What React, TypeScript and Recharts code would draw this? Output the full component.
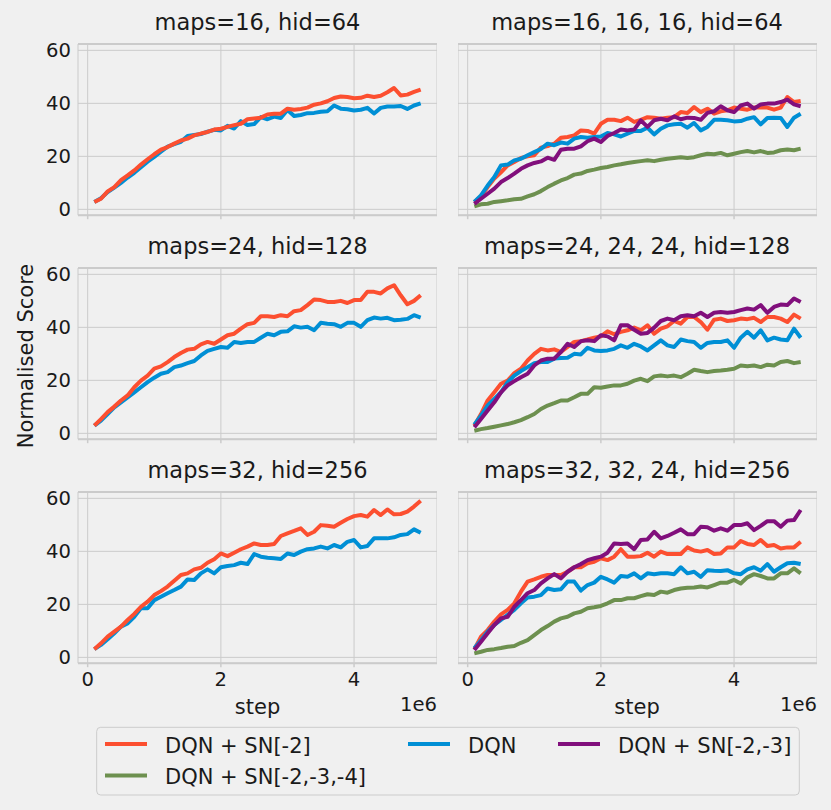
import { LineChart, Line, XAxis, YAxis, CartesianGrid, ReferenceLine } from 'recharts';

// x = training step, in units of 1e6
const STEPS = [
  0.1, 0.2, 0.3, 0.4, 0.5, 0.6, 0.7, 0.8, 0.9, 1.0,
  1.1, 1.2, 1.3, 1.4, 1.5, 1.6, 1.7, 1.8, 1.9, 2.0,
  2.1, 2.2, 2.3, 2.4, 2.5, 2.6, 2.7, 2.8, 2.9, 3.0,
  3.1, 3.2, 3.3, 3.4, 3.5, 3.6, 3.7, 3.8, 3.9, 4.0,
  4.1, 4.2, 4.3, 4.4, 4.5, 4.6, 4.7, 4.8, 4.9, 5.0,
];

const X_TICKS = [0, 2, 4];
const Y_TICKS = [0, 20, 40, 60];

// maps=16, hid=64
const m16_sn2 = [2.8, 4, 6.8, 8.4, 11, 12.8, 14.7, 16.9, 18.9, 20.8, 22.5, 23.5, 24.8, 26, 26.7, 27.9, 28.6, 29.2, 30.1, 30.4, 31.1, 31.8, 32.3, 34, 34.3, 34.6, 35.8, 36.1, 36.1, 38, 37.6, 37.9, 38.4, 39.5, 40, 40.8, 42, 42.6, 42.4, 41.9, 42.1, 42.9, 42.4, 42.9, 44.2, 45.8, 43, 43.3, 44.3, 45.2];
const m16_dqn = [2.8, 4.2, 6.5, 8.2, 10, 12, 13.8, 15.9, 18, 19.8, 21.8, 23.7, 24.6, 25.5, 27.7, 28.1, 28.4, 29.3, 30, 29.8, 31.5, 30.5, 33.3, 31.8, 32.2, 34.8, 34, 35, 34.5, 37.5, 35.2, 35.6, 36.3, 36.4, 36.8, 37, 39.2, 38, 37.8, 37.3, 37.6, 38.3, 36.2, 38.3, 38.8, 38.8, 39, 37.9, 39.2, 40];

// maps=16, 16, 16, hid=64
const m161616_sn2 = [2.8, 4.9, 8.4, 11.6, 14, 16.6, 17.9, 19.4, 20, 20.4, 23.3, 23.9, 24.8, 27, 27.3, 27.9, 29.8, 29.6, 28.6, 32.3, 33.8, 33.8, 33.3, 34.6, 33, 33.8, 34.8, 34.6, 34.2, 34.6, 34.8, 36.7, 36.4, 38.6, 36.7, 38, 36.1, 37, 37.4, 38.4, 38, 37.6, 38.4, 38.4, 38.4, 37.6, 38.4, 42.4, 40.5, 40.9];
const m161616_dqn = [2.8, 5.3, 9, 12.2, 16.6, 16.9, 18.5, 19.1, 20.4, 21.6, 22.8, 24.8, 24.2, 25.2, 24.8, 26.7, 27.3, 27, 27.3, 27.5, 28.8, 28.3, 27.5, 28.6, 29.6, 29.6, 30.8, 28.3, 30.4, 31.7, 32.1, 32.3, 30.8, 32.6, 29.8, 31.1, 33.8, 33.8, 33.6, 33.2, 33.3, 34.2, 34.8, 32.1, 34.5, 34.6, 34.5, 31.1, 34.6, 36.1];
const m161616_sn23 = [2.1, 4, 5.9, 7.8, 10.3, 11.8, 13.5, 15.3, 16.6, 17.5, 18.1, 19.5, 18.7, 22.5, 22.9, 22.9, 23.8, 25.7, 26.7, 25.4, 27.7, 28.8, 30.1, 29.8, 30.1, 33.6, 31.1, 33.6, 34.2, 33.6, 35.1, 34, 34.6, 34.5, 33.8, 36.4, 37, 38.9, 37.4, 36.7, 39.2, 39.9, 38, 39.6, 39.9, 39.9, 40.5, 41.4, 39.6, 38.9];
const m161616_sn234 = [1.1, 1.9, 2.1, 2.8, 3.1, 3.4, 3.8, 4, 4.9, 5.7, 6.9, 8.4, 9.7, 10.9, 11.8, 13.1, 13.5, 14.5, 15, 15.6, 16, 16.6, 17, 17.5, 17.9, 18.2, 18.5, 18.2, 18.7, 19.1, 19.4, 19.7, 19.4, 19.7, 20.4, 21, 20.8, 21.3, 20.4, 21, 21.6, 22, 21.5, 22, 21.3, 21.5, 22.3, 22.6, 22.3, 22.9];

// maps=24, hid=128
const m24_sn2 = [2.9, 5.4, 8, 10.1, 12.4, 14.3, 17.4, 19.9, 21.8, 24.4, 25.3, 26.9, 28.8, 30.3, 31.6, 31.9, 33.6, 34.5, 33.8, 35.4, 37, 37.6, 39.5, 41.2, 41.7, 44.2, 44.2, 43.9, 44.6, 44.2, 46.1, 46.5, 48.4, 50.5, 50.3, 49.6, 49.6, 50, 49.2, 50.3, 50.3, 53.4, 53.4, 52.8, 54.7, 55.9, 52.1, 48.7, 50, 52.1];
const m24_dqn = [2.9, 4.8, 7.3, 9.8, 11.7, 13.6, 15.5, 17.4, 19.3, 21, 22.5, 23.1, 25, 25.6, 26.5, 27.3, 29.4, 31.1, 31.9, 32.6, 32.3, 34.5, 34.1, 34.5, 34.5, 36.1, 37.6, 37, 38.3, 38.5, 40.4, 39.9, 40.2, 38.9, 41.7, 41.4, 41.2, 40.2, 41.7, 41.7, 40.2, 42.7, 43.7, 43.3, 43.6, 42.7, 42.9, 43.2, 44.6, 43.7];

// maps=24, 24, 24, hid=128
const m242424_sn2 = [2.9, 7.3, 12.4, 15.5, 18.7, 19.9, 22.7, 24.4, 27.5, 30, 31.9, 31.3, 31.7, 30.7, 32.6, 34.5, 34.8, 35.4, 36.1, 36.6, 38.5, 37.4, 38.3, 38.9, 39.9, 38.9, 40.8, 37.6, 39.5, 40.4, 42.4, 41.4, 43.9, 43.9, 42, 39.1, 42.9, 43.3, 42.4, 42.7, 43.3, 43.1, 43.6, 42, 43.9, 43.9, 43.3, 42, 44.8, 43.3];
const m242424_dqn = [3.3, 6.7, 10.5, 13, 15.5, 19.3, 21.8, 23.5, 25, 26.5, 26.9, 26.9, 28.2, 28.4, 28.5, 30, 29.8, 32.3, 31.3, 31.1, 31.3, 31.9, 33.2, 32.3, 33.8, 32.8, 31.3, 33.2, 35.1, 33.2, 32.6, 35.4, 34.8, 34.5, 32.3, 34.1, 34.5, 34.5, 35.1, 32.3, 36.1, 38.3, 36.1, 38.9, 35.1, 36.1, 35.4, 35.1, 39.5, 36.1];
const m242424_sn23 = [2.3, 5.4, 8.6, 11.7, 15.5, 18.1, 19.7, 21.2, 22.5, 25.6, 27.5, 28.2, 28.2, 30.7, 33.8, 32.6, 34.8, 35.1, 34.8, 37, 36.6, 35.1, 40.8, 40.8, 39.1, 37.6, 37.9, 39.9, 42.4, 43.3, 42.7, 44.2, 44.6, 44.2, 45.5, 43.9, 45.5, 45.8, 45.5, 45.8, 46.5, 47.1, 46.7, 48.4, 45.5, 47.7, 48.6, 48.4, 50.9, 49.6];
const m242424_sn234 = [1, 1.6, 2, 2.5, 3, 3.5, 4.2, 5, 6.1, 7.3, 9.2, 10.5, 11.4, 12.4, 12.4, 13.6, 14.9, 14.9, 17.4, 17.2, 17.7, 18.1, 18.1, 18.7, 19.9, 20.6, 19.7, 21.5, 21.8, 21.5, 21.8, 21.2, 22.5, 24, 23.5, 23.1, 23.5, 23.7, 24, 24.4, 25.6, 25.3, 25.6, 25, 25.9, 25.6, 26.9, 27.3, 26.5, 26.9];

// maps=32, hid=256
const m32_sn2 = [3.1, 5.3, 7.8, 9.7, 11.6, 14.1, 16.4, 19.1, 21, 23.5, 25, 26.7, 28.9, 31.1, 31.7, 33.2, 33.8, 35.7, 37, 39.2, 38.2, 39.5, 40.8, 41.8, 43, 42.4, 42.4, 42.8, 45.8, 46.8, 47.7, 48.7, 46.2, 47.4, 49.9, 49.7, 49.3, 50.8, 52.2, 53.3, 53.7, 53.1, 55.6, 53.7, 55.8, 54, 54.1, 55, 56.9, 59.1];
const m32_dqn = [3.1, 4.7, 6.8, 9.1, 11.6, 12.8, 15.3, 18.5, 18.5, 21.6, 22.9, 24.2, 25.4, 26.7, 29.4, 29.2, 31.7, 33.2, 31.7, 34, 34.5, 34.8, 35.7, 35.2, 39, 38, 37.6, 37.4, 37.1, 39.2, 38.6, 39.9, 40.8, 41.1, 41.8, 41.1, 42.4, 41.5, 43.6, 44.3, 41.5, 42, 44.9, 44.9, 44.9, 45.3, 46.2, 46.5, 48.3, 47];

// maps=32, 32, 24, hid=256
const m323224_sn2 = [3, 7.8, 10.3, 13.5, 16.2, 17.9, 20.4, 24.8, 28.6, 29.4, 30.4, 31.1, 31.1, 31.1, 32.3, 34, 34, 35.5, 36.1, 37.4, 36.7, 38, 40.8, 38, 38, 38.2, 39.5, 38, 39.9, 39, 39, 39, 41.5, 40.3, 39.9, 40.5, 39, 39.2, 41.5, 41.5, 43.9, 42.8, 42.4, 44.3, 42, 42.4, 41.1, 41.5, 41.5, 43.6];
const m323224_dqn = [3.4, 6.5, 9.7, 12.2, 14.1, 16, 17.9, 20.4, 22.6, 22.9, 23.5, 26, 25.4, 25.7, 28.6, 28.6, 25.2, 27.3, 28.2, 30.4, 29.4, 28.2, 30.7, 30.4, 31.7, 29.8, 31.7, 31.4, 31.7, 31.7, 31.4, 34, 31.7, 32.3, 30.4, 32.9, 32.7, 32.6, 32.9, 31.7, 31.4, 33.2, 34, 32.7, 35.2, 32.3, 34, 35.5, 35.7, 35.2];
const m323224_sn23 = [2.8, 5.9, 9.1, 12.2, 14.7, 15.3, 19.1, 21.6, 24.2, 25.4, 27.9, 29.8, 31.4, 29.8, 32.3, 34, 35.2, 36.7, 37.4, 38, 39.5, 43, 42.8, 43, 40.8, 44.3, 44.5, 47.4, 44.9, 45.8, 47, 48.3, 46.5, 46.5, 49.3, 49.1, 47.8, 48.7, 47.8, 49.9, 49.9, 50.6, 48, 49.6, 51.4, 51.4, 49.3, 51.6, 51.8, 55.6];
const m323224_sn234 = [1.5, 2.1, 2.8, 3.1, 3.5, 4, 4.3, 5.5, 6.5, 8.4, 10.3, 11.8, 13.5, 14.7, 15.3, 16.6, 17.2, 18.5, 18.9, 19.4, 20.4, 21.6, 21.6, 22.3, 22.3, 23.1, 23.8, 23.5, 24.8, 24.4, 25.4, 26, 26.3, 26.4, 26.7, 26.4, 27.3, 28.2, 28.2, 29.2, 27.9, 30.2, 31.4, 30.7, 29.8, 29.8, 31.7, 31.7, 33.6, 31.7];

const SERIES_NAMES = { sn2: 'DQN + SN[-2]', dqn: 'DQN', sn23: 'DQN + SN[-2,-3]', sn234: 'DQN + SN[-2,-3,-4]' };
const SERIES_COLORS = { sn2: '#fc4f30', dqn: '#008fd5', sn23: '#810f7c', sn234: '#6d904f' };

const FONT = '"DejaVu Sans", sans-serif';
const X_DOMAIN = [-0.145, 5.245];
const Y_DOMAIN = [-2.2, 62.4];
const PLOT_W = 359;
const PLOT_H = 171.2;
const PAD_TOP = 14;
const COL_LEFT = [78, 457.5];
const ROW_TOP = [43.6, 267.9, 491.9];

type Ser = { key: 'sn2' | 'dqn' | 'sn23' | 'sn234'; values: number[] };

type PanelProps = {
  col: number;
  row: number;
  title: string;
  series: Ser[];
};

const NoTick = () => <g />;

function Panel({ col, row, title, series }: PanelProps) {
  const showY = col === 0;
  const showX = row === 2;
  const data = STEPS.map((s, i) => {
    const r: any = { step: s };
    series.forEach(ser => { r[ser.key] = ser.values[i]; });
    return r;
  });
  const yw = showY ? 60 : 0;
  const xh = showX ? 36 : 5;
  const left = COL_LEFT[col];
  const top = ROW_TOP[row];
  const tickStyle = { fontSize: 19.6, fill: '#1a1a1a', fontFamily: FONT };

  return (
    <>
      <div style={{
        position: 'absolute', left, top: top - 35, width: PLOT_W, textAlign: 'center',
        fontFamily: FONT, fontSize: 22.5, color: '#1a1a1a', lineHeight: '26px', whiteSpace: 'nowrap',
      }}>
        {title}
      </div>
      <div style={{ position: 'absolute', left: left - yw, top: top - PAD_TOP }}>
        <LineChart width={PLOT_W + yw} height={PLOT_H + xh + PAD_TOP} data={data}
          margin={{ top: PAD_TOP, right: 0, bottom: 0, left: 0 }}>
          <CartesianGrid stroke="#cbcbcb" strokeWidth={1} />
          <XAxis dataKey="step" type="number" domain={X_DOMAIN} ticks={X_TICKS} allowDataOverflow interval={0}
            height={xh} axisLine={false} tickLine={{ stroke: '#cbcbcb', strokeWidth: 1.5 }} tickSize={4}
            tickMargin={5} tick={showX ? tickStyle : NoTick} />
          <YAxis type="number" domain={Y_DOMAIN} ticks={Y_TICKS} allowDataOverflow width={yw} interval={0}
            hide={!showY} axisLine={false} tickLine={false} tickSize={0} tickMargin={7} tick={tickStyle} />
          <ReferenceLine y={Y_DOMAIN[0]} stroke="#cbcbcb" strokeWidth={2} />
          <ReferenceLine y={Y_DOMAIN[1]} stroke="#cbcbcb" strokeWidth={2} />
          {series.map(ser => (
            <Line key={ser.key} dataKey={ser.key} type="linear" stroke={SERIES_COLORS[ser.key]}
              strokeWidth={4} dot={false} isAnimationActive={false} strokeLinejoin="round" />
          ))}
        </LineChart>
      </div>
    </>
  );
}

const LEGEND_ITEMS: { key: Ser['key']; x: number; y: number }[] = [
  { key: 'sn2', x: 105, y: 744 },
  { key: 'sn234', x: 105, y: 775.5 },
  { key: 'dqn', x: 408, y: 744 },
  { key: 'sn23', x: 558, y: 744 },
];

export default function App() {
  return (
    <div style={{ position: 'absolute', left: 0, top: 0, width: 831, height: 810, background: '#f0f0f0', overflow: 'hidden' }}>
      <Panel col={0} row={0} title="maps=16, hid=64"
        series={[{ key: 'dqn', values: m16_dqn }, { key: 'sn2', values: m16_sn2 }]} />
      <Panel col={1} row={0} title="maps=16, 16, 16, hid=64"
        series={[{ key: 'sn2', values: m161616_sn2 }, { key: 'sn234', values: m161616_sn234 }, { key: 'dqn', values: m161616_dqn }, { key: 'sn23', values: m161616_sn23 }]} />
      <Panel col={0} row={1} title="maps=24, hid=128"
        series={[{ key: 'dqn', values: m24_dqn }, { key: 'sn2', values: m24_sn2 }]} />
      <Panel col={1} row={1} title="maps=24, 24, 24, hid=128"
        series={[{ key: 'sn2', values: m242424_sn2 }, { key: 'sn234', values: m242424_sn234 }, { key: 'dqn', values: m242424_dqn }, { key: 'sn23', values: m242424_sn23 }]} />
      <Panel col={0} row={2} title="maps=32, hid=256"
        series={[{ key: 'dqn', values: m32_dqn }, { key: 'sn2', values: m32_sn2 }]} />
      <Panel col={1} row={2} title="maps=32, 32, 24, hid=256"
        series={[{ key: 'sn2', values: m323224_sn2 }, { key: 'sn234', values: m323224_sn234 }, { key: 'dqn', values: m323224_dqn }, { key: 'sn23', values: m323224_sn23 }]} />

      <svg width={831} height={810} style={{ position: 'absolute', left: 0, top: 0, pointerEvents: 'none' }}
        fontFamily={FONT} fill="#1a1a1a">
        <text x={33} y={356} fontSize={21} textAnchor="middle" transform="rotate(-90 33 356)">Normalised Score</text>
        <text x={257.5} y={714} fontSize={21} textAnchor="middle">step</text>
        <text x={637} y={714} fontSize={21} textAnchor="middle">step</text>
        <text x={437} y={711} fontSize={19.6} textAnchor="end">1e6</text>
        <text x={817} y={711} fontSize={19.6} textAnchor="end">1e6</text>

        <rect x={96.7} y={727.3} width={702.6} height={67.7} rx={4} fill="#f0f0f0" stroke="#cccccc" strokeWidth={1} />
        {LEGEND_ITEMS.map(it => (
          <g key={it.key}>
            <line x1={it.x} x2={it.x + 42} y1={it.y} y2={it.y} stroke={SERIES_COLORS[it.key]} strokeWidth={4} />
            <text x={it.x + 60} y={it.y + 8.5} fontSize={21}>{SERIES_NAMES[it.key]}</text>
          </g>
        ))}
      </svg>
    </div>
  );
}
